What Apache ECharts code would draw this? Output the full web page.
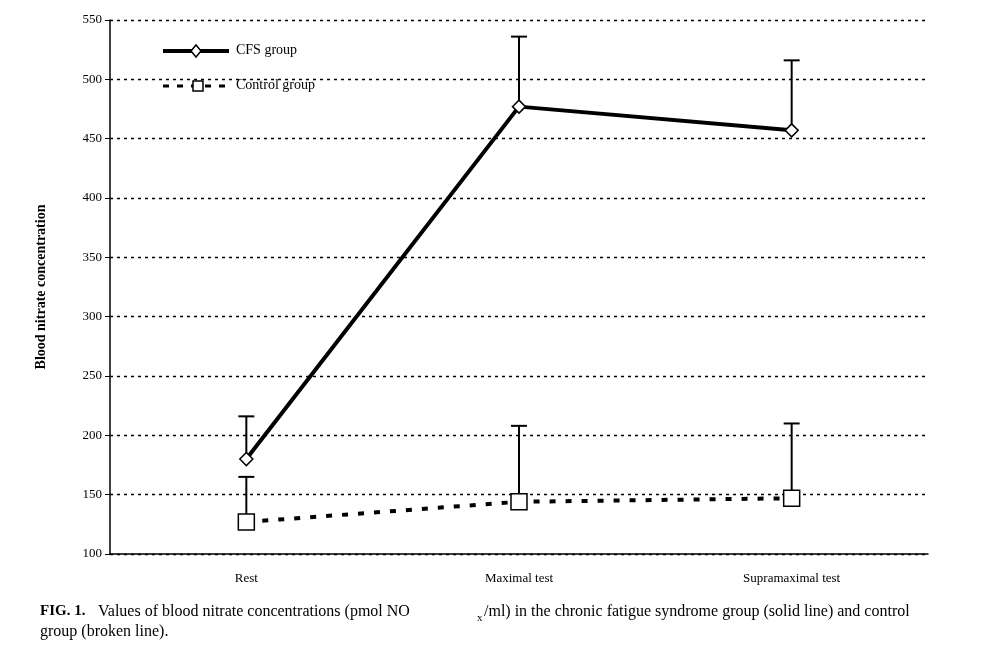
<!DOCTYPE html>
<html>
<head>
<meta charset="utf-8">
<script src="https://cdn.jsdelivr.net/npm/echarts@6/dist/echarts.min.js"></script>
<style>html,body{margin:0;background:#fff}#main{width:981px;height:661px}</style>
</head>
<body>
<div id="main"></div>
<script>
var categories = ['Rest', 'Maximal test', 'Supramaximal test'];
var cfsValues = [180, 477, 457];
var cfsErrTop = [216, 536, 516];
var controlValues = [127, 144, 147];
var controlErrTop = [165, 208, 210];

var chart = echarts.init(document.getElementById('main'));
var font = '"Liberation Serif", "DejaVu Serif", serif';

function errorSeries(tops, base) {
    return {
        type: 'custom',
        silent: true,
        z: 1,
        data: tops.map(function (t, i) { return [i, base[i], t]; }),
        renderItem: function (params, api) {
            var lo = api.coord([api.value(0), api.value(1)]);
            var hi = api.coord([api.value(0), api.value(2)]);
            var style = { stroke: '#000', lineWidth: 2 };
            return {
                type: 'group',
                children: [
                    { type: 'line', shape: { x1: lo[0], y1: lo[1], x2: hi[0], y2: hi[1] }, style: style },
                    { type: 'line', shape: { x1: hi[0] - 8, y1: hi[1], x2: hi[0] + 8, y2: hi[1] }, style: style }
                ]
            };
        }
    };
}

var legendStyle = { stroke: '#000', lineWidth: 4 };
var option = {
    animation: false,
    backgroundColor: '#fff',
    grid: { left: 110, right: 53, top: 20, bottom: 107 },
    xAxis: {
        type: 'category', data: categories,
        axisLine: { lineStyle: { color: '#000', width: 1.5 } },
        axisTick: { lineStyle: { color: '#000' }, length: 5 },
        axisLabel: { fontFamily: font, fontSize: 13, color: '#000', margin: 18 }
    },
    yAxis: {
        type: 'value', min: 100, max: 550, interval: 50,
        name: 'Blood nitrate concentration', nameLocation: 'middle', nameGap: 62,
        nameTextStyle: { fontFamily: font, fontSize: 14, fontWeight: 'bold', color: '#000' },
        axisLine: { show: true, lineStyle: { color: '#000', width: 1.5 } },
        axisTick: { show: true, lineStyle: { color: '#000' }, length: 5 },
        axisLabel: { fontFamily: font, fontSize: 13, color: '#000' },
        splitLine: { lineStyle: { color: '#000', type: [3, 4], width: 1.3 } }
    },
    series: [
        errorSeries(cfsErrTop, cfsValues),
        errorSeries(controlErrTop, controlValues),
        {
            name: 'CFS group', type: 'line', data: cfsValues, z: 3,
            symbol: 'diamond', symbolSize: 13,
            lineStyle: { color: '#000', width: 4 },
            itemStyle: { color: '#fff', borderColor: '#000', borderWidth: 1.5 }
        },
        {
            name: 'Control group', type: 'line', data: controlValues, z: 3,
            symbol: 'rect', symbolSize: 16,
            lineStyle: { color: '#000', width: 4, type: [6, 10] },
            itemStyle: { color: '#fff', borderColor: '#000', borderWidth: 1.5 }
        }
    ],
    graphic: [
        { type: 'line', shape: { x1: 163, y1: 51, x2: 229, y2: 51 }, style: legendStyle },
        { type: 'polygon', shape: { points: [[196, 45], [201, 51], [196, 57], [191, 51]] }, style: { fill: '#fff', stroke: '#000', lineWidth: 1.5 } },
        { type: 'text', left: 236, top: 43, style: { text: 'CFS group', font: '14px ' + font, fill: '#000' } },
        { type: 'line', shape: { x1: 163, y1: 86, x2: 231, y2: 86 }, style: { stroke: '#000', lineWidth: 3, lineDash: [6, 8] } },
        { type: 'rect', shape: { x: 193, y: 81, width: 10, height: 10 }, style: { fill: '#fff', stroke: '#000', lineWidth: 1.5 } },
        { type: 'text', left: 236, top: 78, style: { text: 'Control group', font: '14px ' + font, fill: '#000' } },
        { type: 'text', left: 40, top: 604, style: { text: 'FIG. 1.', font: 'bold 15px ' + font, fill: '#000' } },
        { type: 'text', left: 98, top: 604, style: { text: 'Values of blood nitrate concentrations (pmol NO', font: '16px ' + font, fill: '#000' } },
        { type: 'text', left: 477, top: 613, style: { text: 'x', font: '11px ' + font, fill: '#000' } },
        { type: 'text', left: 484, top: 604, style: { text: '/ml) in the chronic fatigue syndrome group (solid line) and control', font: '16px ' + font, fill: '#000' } },
        { type: 'text', left: 40, top: 624, style: { text: 'group (broken line).', font: '16px ' + font, fill: '#000' } }
    ]
};
option && chart.setOption(option);
</script>
</body>
</html>
